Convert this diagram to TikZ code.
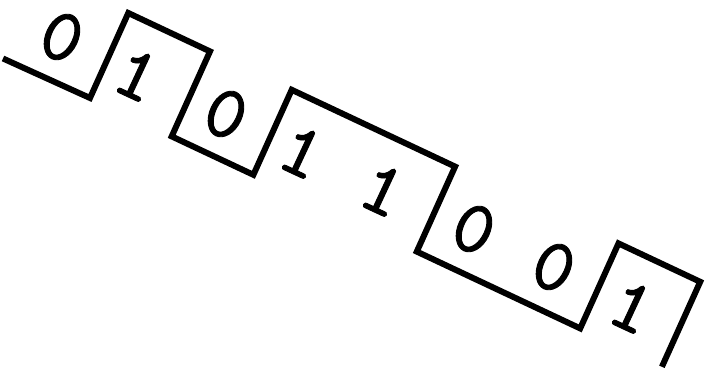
\documentclass[tikz,border=0pt]{standalone}
\usepackage{fontspec}
\newfontfamily\bitfont{lmmono10-regular.otf}[FakeBold=1.2]
\begin{document}
\begin{tikzpicture}[x=1pt,y=-1pt,
  wave/.style={line width=6pt,line join=miter,black},
  bit/.style={font=\bitfont\fontsize{76}{76}\selectfont,rotate=-25,inner sep=0pt}]
\fill[white] (0,0) rectangle (705,371);
\useasboundingbox (0,0) rectangle (705,371);
% waveform corners
\coordinate (p0) at (3,58.5);
\coordinate (l1) at (90,98);
\coordinate (h1) at (128.3,13);
\coordinate (h2) at (210,51.4);
\coordinate (l2) at (171.7,136.4);
\coordinate (l3) at (253.4,174.8);
\coordinate (h3) at (291.7,89.8);
\coordinate (h5) at (455.1,166.6);
\coordinate (l5) at (416.8,251.6);
\coordinate (l7) at (580.2,328.4);
\coordinate (h7) at (618.5,243.4);
\coordinate (h8) at (700.2,281.8);
\coordinate (l8) at (661.9,366.8);
\draw[wave] (p0) -- (l1) -- (h1) -- (h2) -- (l2) -- (l3) -- (h3) -- (h5) -- (l5) -- (l7) -- (h7) -- (h8) -- (l8);
% bit labels
\node[bit] (b0) at (62,37) {0};
\node[bit] (b1) at (137,75) {1};
\node[bit] (b2) at (226,114) {0};
\node[bit] (b3) at (302,152) {1};
\node[bit] (b4) at (383,190) {1};
\node[bit] (b5) at (474,229) {0};
\node[bit] (b6) at (554,267) {0};
\node[bit] (b7) at (632,307) {1};
\end{tikzpicture}
\end{document}
